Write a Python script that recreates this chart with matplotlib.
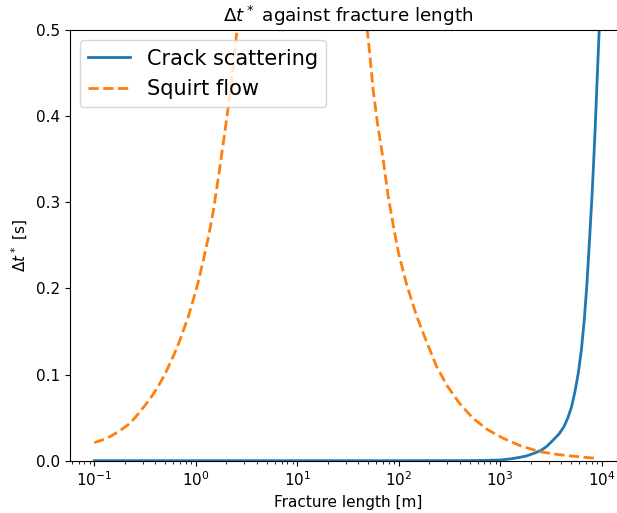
import matplotlib
matplotlib.use("Agg")
import matplotlib.pyplot as plt

plt.rcParams["font.size"] = 11

# Crack scattering attenuation vs fracture length
crack_length = [0.1, 1, 10, 100, 500, 700, 1000, 1250, 1500, 1820, 2200, 2560, 2900,
                3330, 3800, 4245, 4650, 5050, 5450, 5875, 6300, 6730, 7130, 7536,
                8050, 8570, 9000, 9450, 10000]
crack_dt = [0.0, 0.0, 0.0, 0.0, 0.0001, 0.0003, 0.0008, 0.002, 0.0035, 0.0055, 0.009, 0.0124, 0.017,
            0.024, 0.031, 0.0395, 0.05, 0.0627, 0.08, 0.1015, 0.128, 0.163, 0.203, 0.25,
            0.31, 0.378, 0.44, 0.5, 0.58]

# Squirt flow attenuation vs fracture length
squirt_length = [0.1, 0.12, 0.143, 0.18, 0.225, 0.27, 0.328, 0.38, 0.444, 0.5, 0.557, 0.62,
                 0.698, 0.77, 0.843, 0.944, 1.05, 1.2, 1.35, 1.5, 1.7, 1.9, 2.2, 2.55, 2.8,
                 3.5, 5, 10, 20, 35, 45, 49, 52, 56, 62, 70, 78, 88, 100, 120, 150, 188,
                 235, 296, 400, 542, 750, 1070, 1600, 2450, 3500, 5000, 7000, 8900]
squirt_dt = [0.0209, 0.024, 0.0279, 0.035, 0.0434, 0.054, 0.0666, 0.077, 0.0899, 0.101, 0.113, 0.125,
             0.140, 0.154, 0.167, 0.1866, 0.206, 0.235, 0.263, 0.292, 0.335, 0.375, 0.43, 0.5, 0.55,
             0.68, 0.9, 1.1, 1.0, 0.7, 0.545, 0.5, 0.47, 0.43, 0.39, 0.351, 0.31, 0.274, 0.24, 0.204,
             0.168, 0.138, 0.11, 0.088, 0.066, 0.049, 0.036, 0.026, 0.017, 0.0105, 0.0075, 0.0055,
             0.0037, 0.0028]

fig = plt.figure(figsize=(6.17, 5.13), dpi=100)
ax = fig.add_axes([0.113, 0.102, 0.902, 0.8396])

ax.plot(crack_length, crack_dt, lw=2, label="Crack scattering")
ax.plot(squirt_length, squirt_dt, "--", lw=2, label="Squirt flow")

ax.set_xscale("log")
ax.set_xlim(10 ** -1.242, 10 ** 4.242)
ax.set_ylim(0, 0.5)
ax.set_xlabel("Fracture length [m]")
ax.set_ylabel(r"$\Delta t^*$ [s]")
ax.set_title(r"$\Delta t^*$ against fracture length")
ax.legend(loc="upper left", fontsize=15)

fig.savefig("out.png", dpi=100)
